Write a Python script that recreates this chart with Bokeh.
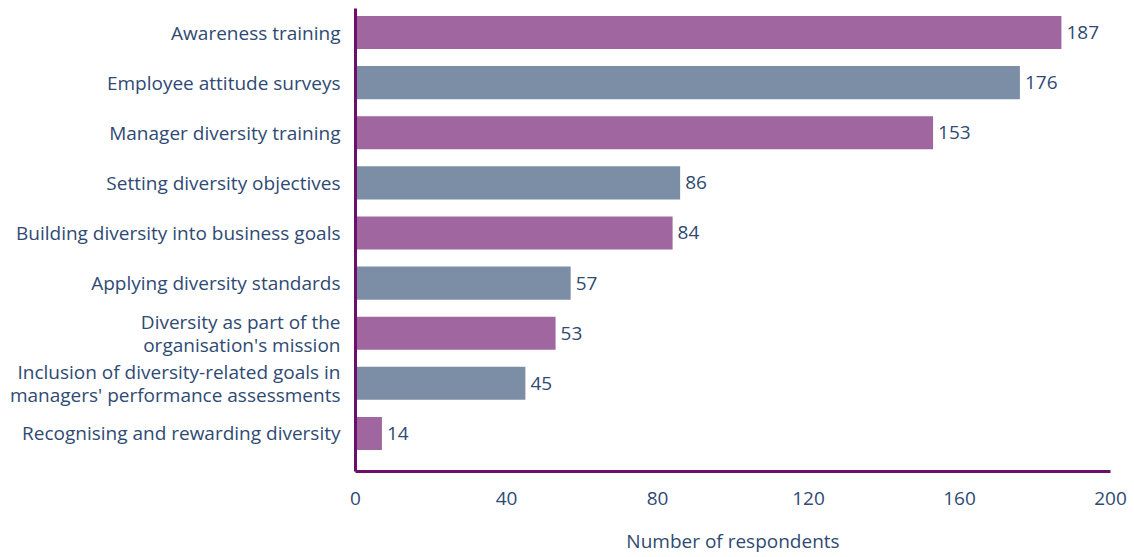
from bokeh.plotting import figure
from bokeh.models import Range1d, FixedTicker, ColumnDataSource
from bokeh.core.properties import value
from bokeh.embed import file_html
from bokeh.resources import INLINE

categories = [
    "Awareness training",
    "Employee attitude surveys",
    "Manager diversity training",
    "Setting diversity objectives",
    "Building diversity into business goals",
    "Applying diversity standards",
    "Diversity as part of the\norganisation's mission",
    "Inclusion of diversity-related goals in\nmanagers' performance assessments",
    "Recognising and rewarding diversity",
]
values = [187, 176, 153, 86, 84, 57, 53, 45, 7]
value_labels = ["187", "176", "153", "86", "84", "57", "53", "45", "14"]
x_ticks = [0, 40, 80, 120, 160, 200]

PURPLE = "#a066a0"
GREY = "#7b8ea6"
TEXT = "#2f4a73"
AXIS = "#6b0f6b"
FONT = "Open Sans"

ys = list(range(len(categories)))
colors = [PURPLE if i % 2 == 0 else GREY for i in ys]
src = ColumnDataSource(dict(y=ys, v=values, lab=value_labels, c=colors))

p = figure(width=1134, height=557, output_backend="svg", toolbar_location=None,
           x_range=Range1d(0, 200), y_range=Range1d(len(categories) - 0.24, -0.48),
           min_border_left=355, min_border_right=24, min_border_top=8, min_border_bottom=86)
p.outline_line_color = None
p.xgrid.visible = False
p.ygrid.visible = False

p.hbar(y="y", right="v", left=0, height=0.66, color="c", source=src, line_color=None)
p.text(x="v", y="y", text="lab", source=src, x_offset=5, text_baseline="middle",
       text_align="left", text_font=value(FONT), text_font_size="19px", text_color=TEXT)

xa = p.xaxis[0]
xa.ticker = FixedTicker(ticks=x_ticks)
xa.axis_line_color = AXIS
xa.axis_line_width = 3
xa.major_tick_line_color = None
xa.minor_tick_line_color = None
xa.major_label_standoff = 14
xa.major_label_text_font = FONT
xa.major_label_text_font_size = "19px"
xa.major_label_text_color = TEXT
xa.axis_label = "Number of respondents"
xa.axis_label_text_font = FONT
xa.axis_label_text_font_size = "19px"
xa.axis_label_text_font_style = "normal"
xa.axis_label_text_color = TEXT
xa.axis_label_standoff = 20

ya = p.yaxis[0]
ya.ticker = FixedTicker(ticks=ys)
ya.major_label_overrides = {i: c for i, c in zip(ys, categories)}
ya.axis_line_color = AXIS
ya.axis_line_width = 3
ya.major_tick_line_color = None
ya.minor_tick_line_color = None
ya.major_label_standoff = 9
ya.major_label_text_font = FONT
ya.major_label_text_font_size = "19px"
ya.major_label_text_color = TEXT
ya.major_label_text_align = "right"
ya.major_label_text_line_height = 0.88

open("out.html", "w").write(file_html(p, INLINE))
